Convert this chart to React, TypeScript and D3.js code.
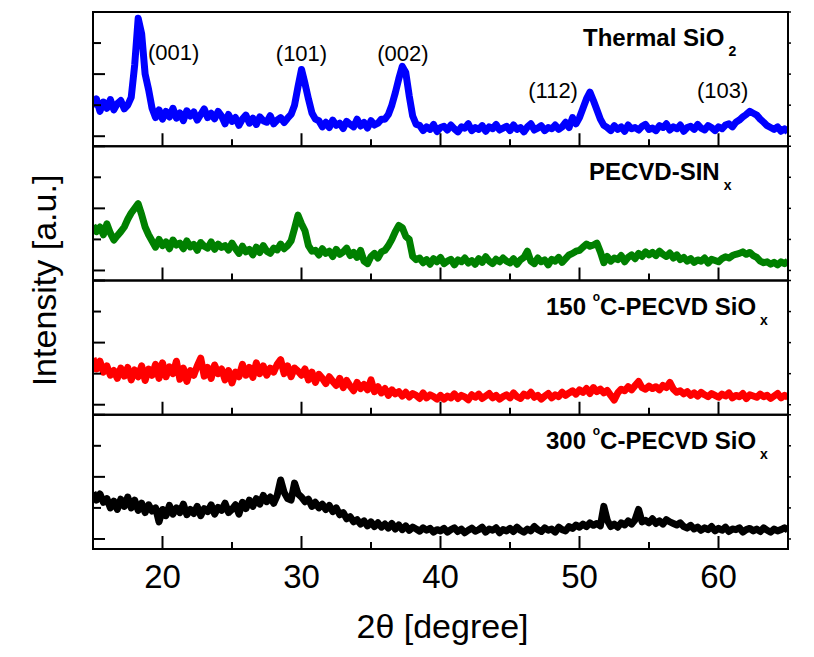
import React from 'react';
import * as d3 from 'd3';

// Intensity (a.u.), sampled every 0.25 deg from 15 to 65 deg (201 points)
const thermalSiO2 = [
  95, 120, 80, 110, 90, 118, 85, 105, 115, 88, 100,
  125, 230, 380, 330, 200, 150, 90, 60,
  85, 55, 80, 62, 90, 58, 75, 50, 82, 65, 78, 52, 70, 88, 60, 74, 56, 80,
  65, 40, 70, 48, 60, 35, 55, 68, 42, 58, 38, 62, 50, 45, 66, 40, 52, 60, 44, 58, 70,
  100, 160, 215, 170, 120, 75, 55,
  50, 30, 45, 28, 52, 35, 42, 25, 48, 38, 30, 55, 33, 44, 26, 50, 36, 42, 55,
  55, 70, 100, 140, 185, 225, 205, 130, 65, 38,
  35, 18, 30, 22, 38, 15, 28, 32, 20, 36, 24, 14, 30, 26, 40, 18, 28, 22, 34, 16, 30, 24, 38, 20, 26, 32, 18, 36, 22, 28, 14, 30, 40, 20, 26, 34, 18, 28, 24, 36, 22, 30, 45, 28,
  60, 40, 60, 90, 120, 142, 115, 85, 55, 35,
  28, 18, 34, 22, 30, 16, 36, 24, 28, 20, 32, 38, 22, 26, 18, 34, 28, 40, 20, 30, 24, 36, 16, 28, 32, 22, 38, 26, 20, 34, 28, 18, 30, 24, 36, 40, 30, 45,
  52, 62, 70, 80, 74, 68, 55, 45, 34, 28,
  22, 30, 16, 24, 14,
];

const pecvdSiNx = [
  145, 125, 140, 115, 150, 120, 98, 112, 125,
  140, 165, 185, 200, 215, 180, 140, 115,
  95, 75, 100, 80, 92, 70, 98, 82,
  88, 70, 95, 76, 84, 65, 90, 78, 72, 92, 68, 85, 74, 80, 66, 88,
  70, 55, 78, 60, 68, 50, 75, 58, 80, 62, 55, 72, 66, 85, 70, 80,
  95, 135, 178, 150, 128, 80, 62,
  65, 50, 70, 55, 62, 45, 68, 52, 60, 72, 48, 58, 42, 65, 30, 22, 45, 55, 40, 60,
  65, 80, 100, 125, 145, 138, 110, 100, 45, 35,
  40, 25, 35, 20, 38, 28, 42, 22, 30, 36, 18, 34, 28, 40, 24, 32, 20, 38, 26, 44, 30, 22, 36, 28, 40, 30, 24, 38, 20, 34, 42, 62, 30, 22, 40, 28, 34, 18, 36, 30, 42, 26, 38, 50,
  55, 62, 65, 75, 85, 78, 82, 88, 60, 25,
  45, 30, 40, 35, 48, 28, 42, 50, 38, 55, 45, 60, 50, 58, 48, 62, 52, 45, 56, 40, 50, 35, 42, 30, 38, 26, 34, 30, 40, 24, 36, 32, 28, 38, 44, 40, 48, 52,
  55, 60, 52, 58, 48, 42, 30, 25, 28, 20,
  26, 18, 28, 22, 30,
];

const pecvdSiOx150 = [
  150, 115, 140, 105, 125, 95, 110, 85, 118, 92,
  120, 80, 112, 90, 125, 78, 115, 95, 130, 85,
  135, 90, 122, 100, 140, 82, 118, 75, 110, 95,
  125, 150, 92, 120, 85, 128, 100, 115, 80, 110,
  70, 105, 90, 130, 95, 120, 88, 135, 100, 125,
  95, 118, 105, 130, 145, 100, 125, 90, 118, 108,
  95, 115, 80, 105, 72, 98, 85, 68, 90, 75,
  62, 85, 55, 78, 60, 45, 72, 52, 65, 48,
  80, 42, 58, 38, 52, 30, 48, 35, 42, 28,
  40, 25, 36, 30, 20, 38, 22, 32, 26, 18,
  30, 18, 28, 22, 35, 20, 30, 25, 16, 32,
  24, 34, 20, 28, 36, 22, 30, 18, 26, 32,
  22, 38, 26, 20, 34, 28, 40, 24, 30, 18,
  28, 36, 22, 32, 26, 40, 30, 38, 45, 34,
  48, 40, 52, 36, 55, 42, 50, 38, 46, 30,
  15, 38, 50, 45, 58, 48, 62, 75, 55, 50,
  60, 52, 58, 48, 62, 55, 72, 50, 40, 45,
  35, 42, 30, 38, 28, 40, 32, 26, 36, 30,
  24, 34, 28, 38, 22, 30, 26, 36, 20, 32,
  28, 24, 34, 26, 30, 20, 28, 36, 22, 30,
  24,
];

const pecvdSiOx300 = [
  150, 125, 145, 118, 130, 100, 122, 95, 128, 105,
  135, 100, 125, 92, 115, 85, 110, 90, 100, 55,
  95, 75, 108, 80, 100, 85, 112, 78, 95, 82,
  105, 75, 98, 88, 110, 80, 102, 92, 115, 85,
  95, 110, 80, 118, 98, 125, 105, 130, 112, 140,
  120, 135, 115, 140, 190, 150, 130, 125, 180, 145,
  135, 120, 128, 105, 118, 100, 112, 95, 108, 88,
  100, 78, 85, 65, 72, 55, 62, 48, 58, 42,
  55, 40, 52, 38, 48, 35, 50, 32, 45, 30,
  42, 28, 38, 32, 25, 36, 28, 34, 22, 30,
  26, 34, 22, 30, 36, 24, 32, 20, 28, 35,
  25, 30, 38, 22, 32, 28, 36, 20, 30, 26,
  34, 24, 38, 28, 22, 32, 26, 40, 30, 24,
  36, 28, 32, 22, 38, 30, 26, 40, 34, 45,
  38, 48, 40, 52, 44, 50, 42, 105, 60, 40,
  48, 38, 52, 45, 58, 48, 62, 95, 55, 60,
  52, 65, 50, 58, 48, 62, 55, 50, 45, 52,
  40, 35, 44, 32, 38, 28, 36, 30, 40, 26,
  34, 28, 38, 24, 32, 30, 36, 22, 30, 34,
  26, 32, 24, 36, 28, 22, 32, 26, 30, 36,
  28,
];

const seriesList = [thermalSiO2, pecvdSiNx, pecvdSiOx150, pecvdSiOx300];
const seriesColors = ['#0000ff', '#008000', '#ff0000', '#000000'];
const titleMain = ['Thermal SiO', 'PECVD-SIN', 'C-PECVD SiO', 'C-PECVD SiO'];
const titlePrefix = ['', '', '150 ', '300 '];
const titleSup = ['', '', 'o', 'o'];
const titleSub = ['2', 'x', 'x', 'x'];

const thetaDomain = [15, 65];
const xMajorTicks = [20, 30, 40, 50, 60];
const xMinorTicks = [15, 25, 35, 45, 55, 65];
const yMajorTicks = [0, 200, 400];
const yMinorTicks = [100, 300];
const yDomain = [-32.3, 400];

const peakLabels = ['(001)', '(101)', '(002)', '(112)', '(103)'];
const peakTheta = [20.8, 30.0, 37.3, 48.1, 60.3];
const peakIntensity = [245, 242, 242, 123, 123];

const FONT = '"Liberation Sans", Arial, Helvetica, sans-serif';

export default function App() {
  const W = 814, H = 657;
  const left = 93, right = 788, top = 12, bottom = 549;
  const ph = (bottom - top) / 4;
  const x = d3.scaleLinear().domain(thetaDomain).range([left, right]);
  const titleX = [583, 589, 546, 546];

  return (
    <svg width={W} height={H} style={{ position: 'absolute', left: 0, top: 0, background: '#fff' }}>
      <defs>
        {seriesList.map((_, k) => (
          <clipPath id={`clip${k}`} key={k}>
            <rect x={left} y={top + k * ph} width={right - left} height={ph} />
          </clipPath>
        ))}
      </defs>
      {seriesList.map((vals, k) => {
        const pTop = top + k * ph;
        const pBot = pTop + ph;
        const y = d3.scaleLinear().domain(yDomain).range([pBot, pTop]);
        const idx = d3.scaleLinear().domain([0, vals.length - 1]).range(thetaDomain);
        const line = d3.line<number>()
          .x((d, i) => x(idx(i)))
          .y(d => y(d));
        return (
          <g key={k}>
            <path d={line(vals) || ''} fill="none" stroke={seriesColors[k]} strokeWidth={7}
              strokeLinejoin="round" clipPath={`url(#clip${k})`} />
            <rect x={left} y={pTop} width={right - left} height={ph} fill="none" stroke="#000" strokeWidth={2} />
            {yMajorTicks.map(t => (
              <line key={'ym' + t} x1={left} x2={left + 12} y1={y(t)} y2={y(t)} stroke="#000" strokeWidth={2} />
            ))}
            {yMinorTicks.map(t => (
              <line key={'yn' + t} x1={left} x2={left + 8} y1={y(t)} y2={y(t)} stroke="#000" strokeWidth={2} />
            ))}
            {[...yMajorTicks, ...yMinorTicks].map(t => (
              <line key={'yr' + t} x1={right} x2={right + 3} y1={y(t)} y2={y(t)} stroke="#000" strokeWidth={1.5} />
            ))}
            {xMajorTicks.map(t => (
              <line key={'xm' + t} x1={x(t)} x2={x(t)} y1={pBot} y2={pBot - 13} stroke="#000" strokeWidth={2} />
            ))}
            {xMinorTicks.map(t => (
              <line key={'xn' + t} x1={x(t)} x2={x(t)} y1={pBot} y2={pBot - 7} stroke="#000" strokeWidth={2} />
            ))}
            <text x={titleX[k]} y={pTop + 34} fontFamily={FONT} fontWeight="bold" fontSize={24} fill="#000">
              {titlePrefix[k]}
              {titleSup[k] && <tspan fontSize={12} dy={-14}>{titleSup[k]}</tspan>}
              <tspan fontSize={24} dy={titleSup[k] ? 14 : 0}>{titleMain[k]}</tspan>
              <tspan fontSize={14} dx={4} dy={10}>{titleSub[k]}</tspan>
            </text>
            {k === 0 && peakLabels.map((lab, j) => (
              <text key={lab} x={x(peakTheta[j])} y={y(peakIntensity[j])} textAnchor="middle"
                fontFamily={FONT} fontSize={22} fill="#000">{lab}</text>
            ))}
          </g>
        );
      })}
      {xMajorTicks.map(t => (
        <text key={'xl' + t} x={x(t)} y={588} textAnchor="middle" fontFamily={FONT} fontSize={33} fill="#000">{t}</text>
      ))}
      <text x={(left + right) / 2 + 2} y={638} textAnchor="middle" fontFamily={FONT} fontSize={34} fill="#000">2θ [degree]</text>
      <text transform={`translate(56, ${(top + bottom) / 2}) rotate(-90)`} textAnchor="middle" fontFamily={FONT} fontSize={34} fill="#000">Intensity [a.u.]</text>
    </svg>
  );
}
